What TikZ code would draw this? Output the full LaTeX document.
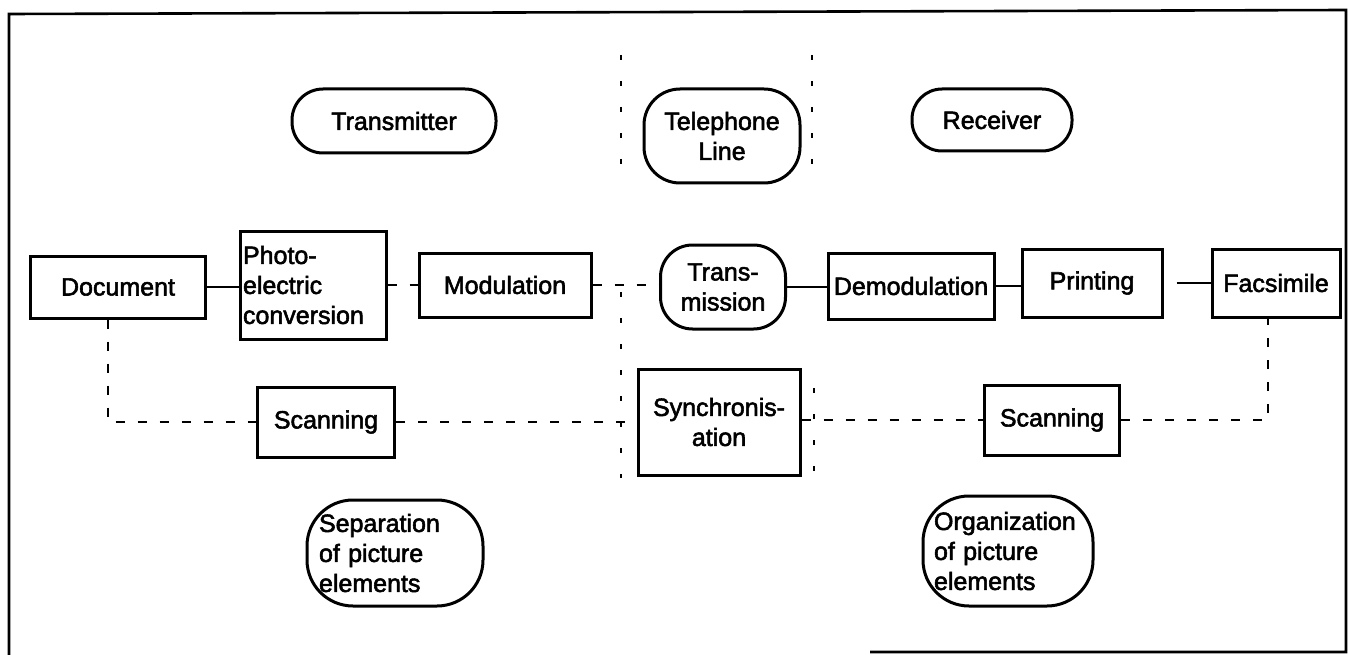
\documentclass[tikz,border=0pt]{standalone}
\usepackage{fontspec}
\setmainfont{Liberation Sans}[FakeBold=2.2]
\begin{document}
\begin{tikzpicture}[x=1pt,y=-1pt,
  font=\fontsize{25}{30}\selectfont,
  box/.style={draw, line width=3pt, rectangle, inner sep=0pt, align=center},
  pill/.style={draw, line width=3pt, rounded corners=#1, inner sep=0pt, align=center},
  conn/.style={line width=1.6pt},
  dsh/.style={line width=1.4pt, dash pattern=on 9pt off 13pt},
  dotv/.style={line width=1.3pt, dash pattern=on 5pt off 21pt},
  frame/.style={line width=2.6pt}]
\useasboundingbox (0,0) rectangle (1348,655);
% frame
\coordinate (f1) at (9,655);
\coordinate (f2) at (9,14);
\coordinate (f3) at (1346,10);
\coordinate (f4) at (1346,652);
\coordinate (f5) at (870,652);
\draw[frame] (f1) -- (f2) -- (f3) -- (f4) -- (f5);
% top labels
\node[pill=31pt, minimum width=204pt, minimum height=64pt] (tx) at (394,121) {Transmitter};
\node[pill=36pt, minimum width=156pt, minimum height=94pt] (tel) at (722,136) {Telephone\\Line};
\node[pill=30pt, minimum width=160pt, minimum height=62pt] (rx) at (992,120) {Receiver};
% main row
\node[box, minimum width=175pt, minimum height=62pt] (doc) at (118,287) {Document};
\node[box, minimum height=108pt, text width=140pt, inner xsep=3pt, align=left] (photo) at (313,285) {Photo-\\electric\\conversion};
\node[box, minimum width=172pt, minimum height=64pt] (mod) at (505,285) {Modulation};
\node[pill=32pt, minimum width=125pt, minimum height=84pt] (trans) at (723,287) {Trans-\\mission};
\node[box, minimum width=166pt, minimum height=66pt] (demod) at (911,286) {Demodulation};
\node[box, minimum width=140pt, minimum height=68pt] (print) at (1092,283) {Printing};
\node[box, minimum width=128pt, minimum height=68pt] (facs) at (1276,283) {Facsimile};
% lower row
\node[box, minimum width=137pt, minimum height=70pt] (scanl) at (326,422) {Scanning};
\node[box, minimum width=162pt, minimum height=106pt] (sync) at (719,422) {Synchronis-\\ation};
\node[box, minimum width=135pt, minimum height=70pt] (scanr) at (1052,420) {Scanning};
\node[pill=46pt, minimum height=106pt, text width=152pt, inner xsep=12pt, align=left] (sep) at (395,553) {Separation\\of picture\\elements};
\node[pill=46pt, minimum height=110pt, text width=148pt, inner xsep=11pt, align=left] (org) at (1008,551) {Organization\\of picture\\elements};
% connectors main row
\draw[conn] (doc.east) -- (doc.east -| photo.west);
\draw[dsh] (photo.east |- mod.west) -- (mod.west);
\draw[dsh] (mod.east) -- (mod.east -| trans.west);
\draw[conn] (trans.east) -- (trans.east -| demod.west);
\draw[conn] (demod.east) -- (demod.east -| print.west);
\draw[conn, shorten <=13pt] (print.east) -- (print.east -| facs.west);
% scanning loops
\coordinate (c1) at (108,422);
\draw[dsh] (doc.south -| c1) -- (c1) -- (scanl.west);
\draw[dsh] (scanl.east) -- (scanl.east -| sync.west);
\draw[dsh] (sync.east |- scanr.west) -- (scanr.west);
\coordinate (c2) at (1268,420);
\draw[dsh] (scanr.east) -- (c2) -- (c2 |- facs.south);
% telephone line boundaries
\coordinate (v1a) at (621,55);
\coordinate (v1b) at (621,182);
\coordinate (v2a) at (812,55);
\coordinate (v2b) at (812,182);
\coordinate (v3a) at (621,292);
\coordinate (v3b) at (621,478);
\coordinate (v4a) at (814,388);
\coordinate (v4b) at (814,476);
\draw[dotv] (v1a) -- (v1b);
\draw[dotv] (v2a) -- (v2b);
\draw[dotv] (v3a) -- (v3b);
\draw[dotv] (v4a) -- (v4b);
\end{tikzpicture}
\end{document}
